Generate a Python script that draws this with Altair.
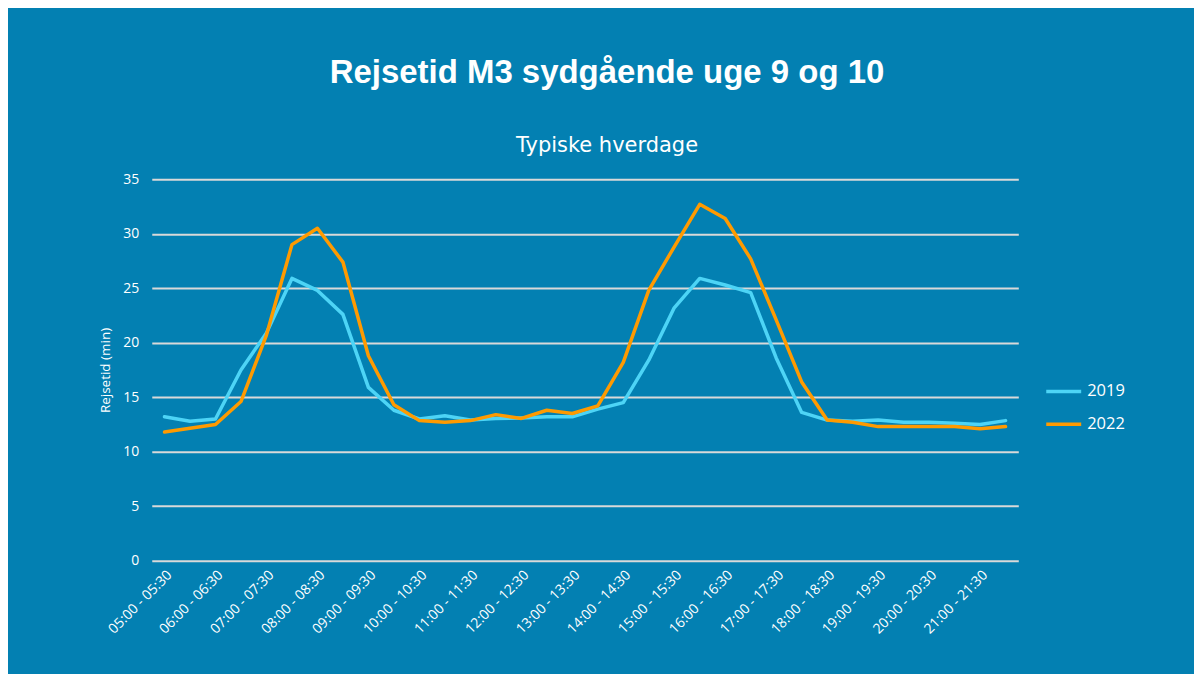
import altair as alt
import pandas as pd

slots = [
    "05:00 - 05:30", "05:30 - 06:00", "06:00 - 06:30", "06:30 - 07:00",
    "07:00 - 07:30", "07:30 - 08:00", "08:00 - 08:30", "08:30 - 09:00",
    "09:00 - 09:30", "09:30 - 10:00", "10:00 - 10:30", "10:30 - 11:00",
    "11:00 - 11:30", "11:30 - 12:00", "12:00 - 12:30", "12:30 - 13:00",
    "13:00 - 13:30", "13:30 - 14:00", "14:00 - 14:30", "14:30 - 15:00",
    "15:00 - 15:30", "15:30 - 16:00", "16:00 - 16:30", "16:30 - 17:00",
    "17:00 - 17:30", "17:30 - 18:00", "18:00 - 18:30", "18:30 - 19:00",
    "19:00 - 19:30", "19:30 - 20:00", "20:00 - 20:30", "20:30 - 21:00",
    "21:00 - 21:30", "21:30 - 22:00",
]
shown_labels = slots[::2]

v2019 = [13.2, 12.8, 13.0, 17.5, 20.9, 25.9, 24.8, 22.6, 15.9, 13.8,
         13.0, 13.3, 12.9, 13.05, 13.1, 13.2, 13.2, 13.9, 14.5, 18.4,
         23.2, 25.9, 25.3, 24.6, 18.6, 13.6, 12.9, 12.8, 12.9, 12.7,
         12.7, 12.6, 12.5, 12.85]
v2022 = [11.8, 12.15, 12.5, 14.6, 20.7, 29.0, 30.5, 27.4, 18.8, 14.3,
         12.85, 12.7, 12.85, 13.4, 13.05, 13.8, 13.5, 14.2, 18.2, 24.8,
         28.8, 32.7, 31.4, 27.7, 22.1, 16.4, 12.9, 12.7, 12.3, 12.3,
         12.3, 12.3, 12.1, 12.3]
series_names = ["2019", "2022"]
series_colors = ["#4DD4F6", "#FF9A00"]
y_ticks = [0, 5, 10, 15, 20, 25, 30, 35]

rows = []
for name, vals in zip(series_names, [v2019, v2022]):
    for s, v in zip(slots, vals):
        rows.append({"Tid": s, "Rejsetid": v, "År": name})
df = pd.DataFrame(rows)

BG = "#0380B2"
FONT = "Open Sans"

chart = (
    alt.Chart(df)
    .mark_line(strokeWidth=3.5, strokeJoin="round", strokeCap="round")
    .encode(
        x=alt.X(
            "Tid:N",
            sort=slots,
            title=None,
            axis=alt.Axis(
                values=shown_labels,
                labelAngle=-45,
                labelAlign="right",
                labelBaseline="top",
                labelPadding=7,
                ticks=False,
                domain=False,
                grid=False,
                labelColor="white",
                labelFont=FONT,
                labelFontSize=14,
            ),
        ),
        y=alt.Y(
            "Rejsetid:Q",
            title="Rejsetid (min)",
            scale=alt.Scale(domain=[0, 35], nice=False),
            axis=alt.Axis(
                values=y_ticks,
                ticks=False,
                domain=False,
                grid=True,
                gridColor="#D9D9D9",
                gridWidth=2,
                labelColor="white",
                labelFont=FONT,
                labelFontSize=14,
                labelPadding=13,
                titleColor="white",
                titleFont=FONT,
                titleFontSize=13.5,
                titleFontWeight="normal",
                titlePadding=10,
            ),
        ),
        color=alt.Color(
            "År:N",
            scale=alt.Scale(domain=series_names, range=series_colors),
            legend=alt.Legend(
                title=None,
                orient="none",
                legendX=894,
                legendY=193,
                symbolType="stroke",
                symbolSize=1225,
                symbolStrokeWidth=3.5,
                labelColor="white",
                labelFont=FONT,
                labelFontSize=16.5,
                labelOffset=4,
                rowPadding=5,
                padding=0,
            ),
        ),
    )
    .properties(
        width=868,
        height=382,
        autosize=alt.AutoSizeParams(type="none"),
        padding={"left": 144, "top": 171, "right": 176, "bottom": 113},
        title=alt.TitleParams(
            text="Rejsetid M3 sydgående uge 9 og 10",
            subtitle="Typiske hverdage",
            anchor="middle",
            dx=22,
            offset=16,
            color="white",
            font="Liberation Sans",
            fontSize=33,
            fontWeight="bold",
            subtitleColor="white",
            subtitleFont="DejaVu Sans",
            subtitleFontSize=21,
            subtitlePadding=45,
        ),
    )
    .configure(background=BG)
    .configure_view(stroke=None)
)

chart.save("out.html", embed_options={"renderer": "svg", "actions": False})
